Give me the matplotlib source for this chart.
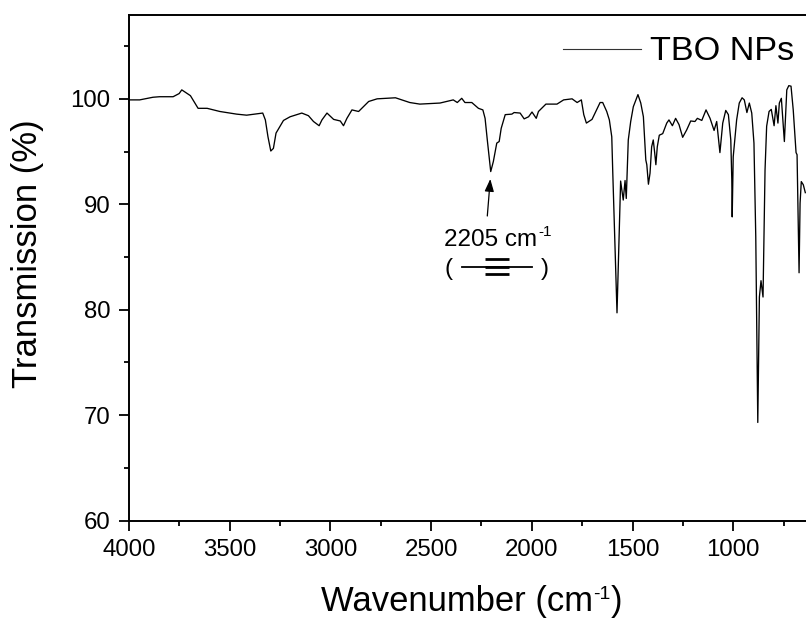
import matplotlib
matplotlib.use("Agg")
import matplotlib.pyplot as plt
from matplotlib.lines import Line2D
from matplotlib.ticker import MultipleLocator

plt.rcParams['font.family'] = ['Liberation Sans', 'DejaVu Sans']

wavenumber = [4000, 3947, 3881, 3848, 3781, 3751, 3738, 3715, 3695, 3673, 3657, 3612, 3549, 3466, 3416, 3336,
              3323, 3310, 3296, 3283, 3270, 3233, 3200, 3142, 3109, 3084, 3056, 3042, 3017, 2984, 2951, 2935,
              2918, 2893, 2860, 2810, 2768, 2677, 2606, 2556, 2456, 2390, 2370, 2348, 2332, 2298, 2265, 2243,
              2232, 2221, 2204, 2191, 2174, 2162, 2152, 2132, 2099, 2088, 2058, 2038, 2016, 1999, 1978, 1967,
              1930, 1875, 1842, 1800, 1775, 1754, 1742, 1729, 1701, 1661, 1648, 1628, 1615, 1603, 1598, 1577,
              1559, 1546, 1537, 1531, 1521, 1509, 1496, 1486, 1473, 1459, 1446, 1434, 1429, 1421, 1413, 1405,
              1397, 1390, 1384, 1377, 1367, 1350, 1330, 1319, 1302, 1286, 1269, 1251, 1231, 1211, 1190, 1178,
              1156, 1135, 1115, 1095, 1082, 1066, 1052, 1037, 1024, 1012, 1007, 1005, 1000, 983, 970, 956,
              945, 932, 920, 908, 897, 888, 878, 870, 862, 852, 842, 834, 822, 811, 797, 788,
              778, 771, 761, 746, 734, 724, 713, 702, 688, 683, 673, 668, 662, 652, 642]
transmission = [99.9, 99.9, 100.15, 100.2, 100.2, 100.5, 100.85, 100.55, 100.3, 99.6, 99.1, 99.1, 98.8, 98.55, 98.45, 98.65,
                98.0, 96.4, 95.05, 95.3, 96.75, 97.95, 98.3, 98.65, 98.4, 97.85, 97.45, 98.0, 98.65, 98.05, 97.9, 97.45,
                98.15, 98.95, 98.8, 99.75, 100.0, 100.1, 99.65, 99.5, 99.6, 99.9, 99.65, 100.05, 99.65, 99.65, 99.1, 98.95,
                98.15, 96.1, 93.1, 94.05, 95.8, 95.95, 97.2, 98.5, 98.55, 98.7, 98.65, 98.1, 98.3, 98.75, 98.15, 98.8,
                99.5, 99.5, 99.9, 100.0, 99.65, 99.9, 98.5, 97.7, 98.05, 99.65, 99.65, 98.8, 98.0, 96.4, 93.0, 79.7,
                92.2, 90.4, 92.25, 90.55, 96.1, 97.85, 99.25, 99.75, 100.4, 99.6, 98.3, 94.2, 93.75, 91.9, 92.95, 95.45,
                96.1, 94.9, 93.75, 95.45, 96.55, 96.7, 97.7, 98.0, 97.45, 98.15, 97.55, 96.35, 97.05, 97.9, 97.85, 98.15,
                97.95, 98.95, 98.15, 97.0, 97.85, 94.9, 97.7, 98.9, 98.5, 96.1, 92.3, 88.8, 94.5, 98.0, 99.6, 100.1,
                99.9, 98.7, 99.6, 98.65, 95.8, 86.9, 69.3, 81.2, 82.75, 81.2, 93.25, 97.4, 98.8, 99.0, 97.45, 99.35,
                97.7, 99.6, 100.05, 95.95, 100.85, 101.25, 101.2, 98.95, 94.9, 94.7, 83.5, 90.1, 92.15, 91.85, 91.1]

x_major = [4000, 3500, 3000, 2500, 2000, 1500, 1000]
y_major = [60, 70, 80, 90, 100]
series_label = "TBO NPs"
peak_label = "2205 cm"
x_label = "Wavenumber (cm"
y_label = "Transmission (%)"

W, H = 806, 619
fig = plt.figure(figsize=(W / 100, H / 100), dpi=100, facecolor='white')


def fx(px):
    return px / W


def fy(py):
    return 1 - py / H


ax = fig.add_axes([fx(129), fy(520.5), fx(806) - fx(129), fy(14.5) - fy(520.5)])
ax.plot(wavenumber, transmission, color='black', lw=0.95, solid_joinstyle='round', clip_on=False)
ax.set_xlim(4000, 638.6)
ax.set_ylim(60, 108)
ax.spines['right'].set_visible(False)
for s in ('left', 'bottom', 'top'):
    ax.spines[s].set_linewidth(1.4)
ax.set_xticks(x_major)
ax.set_yticks(y_major)
ax.xaxis.set_minor_locator(MultipleLocator(250))
ax.yaxis.set_minor_locator(MultipleLocator(5))
ax.tick_params(which='major', length=7.2, width=1.3, labelsize=17.3, pad=6, direction='out')
ax.tick_params(which='minor', length=3.6, width=1.3, direction='out')

# Axis titles, each with its hyphen superscript set by hand
fig.text(fx(320.7), fy(611), x_label, fontsize=24.9, ha='left', va='baseline')
fig.text(fx(593), fy(599), "-1", fontsize=14, ha='left', va='baseline')
fig.text(fx(611), fy(611), ")", fontsize=24.9, ha='left', va='baseline')
fig.text(fx(37), fy(388), y_label, fontsize=24.9, rotation=90, ha='left', va='baseline',
         rotation_mode='anchor')

# Legend
fig.add_artist(Line2D([fx(563), fx(640.5)], [fy(48.5), fy(48.5)], color='#333333', lw=0.8))
fig.text(fx(650), fy(60.5), series_label, fontsize=24.7, ha='left', va='baseline')

# Peak annotation
ax.annotate('', xy=(fx(490.3), fy(179)), xycoords='figure fraction',
            xytext=(fx(487.3), fy(216)), textcoords='figure fraction',
            arrowprops=dict(arrowstyle='-|>,head_width=0.28,head_length=0.75', color='black', lw=0.9,
                            shrinkA=0, shrinkB=0))
fig.text(fx(444), fy(245.5), peak_label, fontsize=17.5, ha='left', va='baseline')
fig.text(fx(538), fy(236), "-1", fontsize=11, ha='left', va='baseline')
fig.text(fx(444), fy(275), "(", fontsize=17.5, ha='left', va='baseline')
fig.text(fx(541), fy(275), ")", fontsize=17.5, ha='left', va='baseline')
fig.add_artist(Line2D([fx(461.7), fx(531.7)], [fy(266.7), fy(266.7)], color='black', lw=1.3))
for yb in (259.3, 266.7, 274):
    fig.add_artist(Line2D([fx(485), fx(509)], [fy(yb), fy(yb)], color='black', lw=2.0, solid_capstyle='butt'))

fig.savefig('out.png', dpi=100)
